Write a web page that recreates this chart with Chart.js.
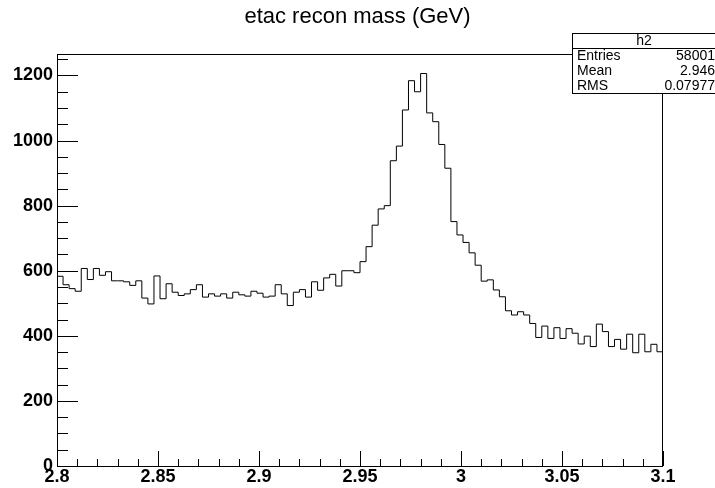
<!DOCTYPE html>
<html>
<head>
<meta charset="utf-8">
<script src="https://cdn.jsdelivr.net/npm/chart.js@4.4.1/dist/chart.umd.min.js"></script>
<style>
  html, body { margin: 0; padding: 0; background: #fff; }
</style>
</head>
<body>
<canvas id="myChart" width="715" height="488"></canvas>
<script>
// histogram h2: 100 bins from 2.8 to 3.1
const xMin = 2.8, xMax = 3.1;
const yMax = 1266;

const counts = [
  583, 557, 545, 537, 607, 573, 607, 586, 597, 569,
  569, 566, 555, 569, 516, 498, 584, 514, 560, 534,
  524, 529, 542, 557, 519, 529, 522, 529, 516, 534,
  526, 522, 537, 531, 519, 522, 557, 529, 493, 534,
  542, 519, 566, 540, 578, 589, 553, 600, 600, 594,
  628, 674, 740, 790, 800, 938, 983, 1094, 1184, 1150,
  1206, 1085, 1058, 988, 915, 751, 710, 687, 655, 617,
  568, 572, 541, 520, 477, 464, 474, 464, 438, 395,
  430, 392, 425, 392, 422, 408, 375, 399, 367, 436,
  413, 367, 389, 359, 405, 348, 405, 351, 374, 351
];

const xTicks = [2.8, 2.85, 2.9, 2.95, 3, 3.05, 3.1];
const xTickLabels = ['2.8', '2.85', '2.9', '2.95', '3', '3.05', '3.1'];
const yTicks = [0, 200, 400, 600, 800, 1000, 1200];
const yTickLabels = ['0', '200', '400', '600', '800', '1000', '1200'];

const title = 'etac recon mass (GeV)';
const statsName = 'h2';
const statsLabels = ['Entries', 'Mean', 'RMS'];
const statsValues = ['58001', '2.946', '0.07977'];

const binWidth = (xMax - xMin) / counts.length;
const points = counts.map((c, i) => ({ x: xMin + i * binWidth, y: c }));
points.push({ x: xMax, y: counts[counts.length - 1] });

// ROOT style frame, inward ticks, title and stats box
const rootStyle = {
  id: 'rootStyle',
  afterDraw(chart) {
    const ctx = chart.ctx;
    const { left, right, top, bottom } = chart.chartArea;
    const xs = chart.scales.x, ys = chart.scales.y;
    ctx.save();
    ctx.strokeStyle = '#000';
    ctx.lineWidth = 1;
    ctx.strokeRect(left + 0.5, top + 0.5, right - left - 1, bottom - top);

    ctx.beginPath();
    for (let i = 0; i <= 30; i++) {
      const v = xMin + i * 0.01;
      const px = Math.round(xs.getPixelForValue(v)) + 0.5;
      const len = i % 5 === 0 ? 15 : 7;
      ctx.moveTo(px, bottom);
      ctx.lineTo(px, bottom - len);
    }
    for (let v = 0; v <= yMax; v += 50) {
      const py = Math.round(ys.getPixelForValue(v)) + 0.5;
      const len = v % 200 === 0 ? 21 : 11;
      ctx.moveTo(left, py);
      ctx.lineTo(left + len, py);
    }
    ctx.stroke();

    // title
    ctx.fillStyle = '#000';
    ctx.font = '22px "Liberation Sans", Arial, sans-serif';
    ctx.textAlign = 'center';
    ctx.textBaseline = 'middle';
    ctx.fillText(title, chart.width / 2, 17);

    // stats box
    const bx = 572, by = 33, bw = 150, bh = 60, rowH = 15;
    ctx.fillStyle = '#fff';
    ctx.fillRect(bx, by, bw, bh);
    ctx.strokeRect(bx + 0.5, by + 0.5, bw, bh);
    ctx.beginPath();
    ctx.moveTo(bx, by + rowH + 0.5);
    ctx.lineTo(bx + bw, by + rowH + 0.5);
    ctx.stroke();
    ctx.fillStyle = '#000';
    ctx.font = '14px "Liberation Sans", Arial, sans-serif';
    ctx.textAlign = 'center';
    ctx.fillText(statsName, bx + 72, by + rowH / 2 + 1);
    statsLabels.forEach((lab, i) => {
      const y = by + rowH * (i + 1) + rowH / 2 + 1;
      ctx.textAlign = 'left';
      ctx.fillText(lab, bx + 5, y);
      ctx.textAlign = 'right';
      ctx.fillText(statsValues[i], 715, y);
    });
    ctx.restore();
  }
};

const ctx = document.getElementById('myChart');

new Chart(ctx, {
  type: 'line',
  data: {
    datasets: [{
      label: statsName,
      data: points,
      stepped: true,
      borderColor: '#000',
      borderWidth: 1,
      pointRadius: 0,
      fill: false
    }]
  },
  options: {
    responsive: false,
    animation: false,
    devicePixelRatio: 1,
    layout: { padding: { top: 54, right: 52, left: 0, bottom: 0 } },
    plugins: {
      legend: { display: false },
      tooltip: { enabled: false }
    },
    scales: {
      x: {
        type: 'linear',
        min: xMin,
        max: xMax,
        afterBuildTicks: s => { s.ticks = xTicks.map(v => ({ value: v })); },
        afterFit: s => { s.height = 22; },
        grid: { display: false, drawTicks: false },
        border: { display: false },
        ticks: {
          padding: 0,
          maxRotation: 0,
          autoSkip: false,
          color: '#000',
          font: { family: '"Liberation Sans", Arial, sans-serif', size: 18, weight: 'bold' },
          callback: (v, i) => xTickLabels[i]
        }
      },
      y: {
        type: 'linear',
        min: 0,
        max: yMax,
        afterBuildTicks: s => { s.ticks = yTicks.map(v => ({ value: v })); },
        afterFit: s => { s.width = 57; },
        grid: { display: false, drawTicks: false },
        border: { display: false },
        ticks: {
          padding: 4,
          autoSkip: false,
          color: '#000',
          font: { family: '"Liberation Sans", Arial, sans-serif', size: 18, weight: 'bold' },
          callback: (v, i) => yTickLabels[i]
        }
      }
    }
  },
  plugins: [rootStyle]
});
</script>
</body>
</html>
